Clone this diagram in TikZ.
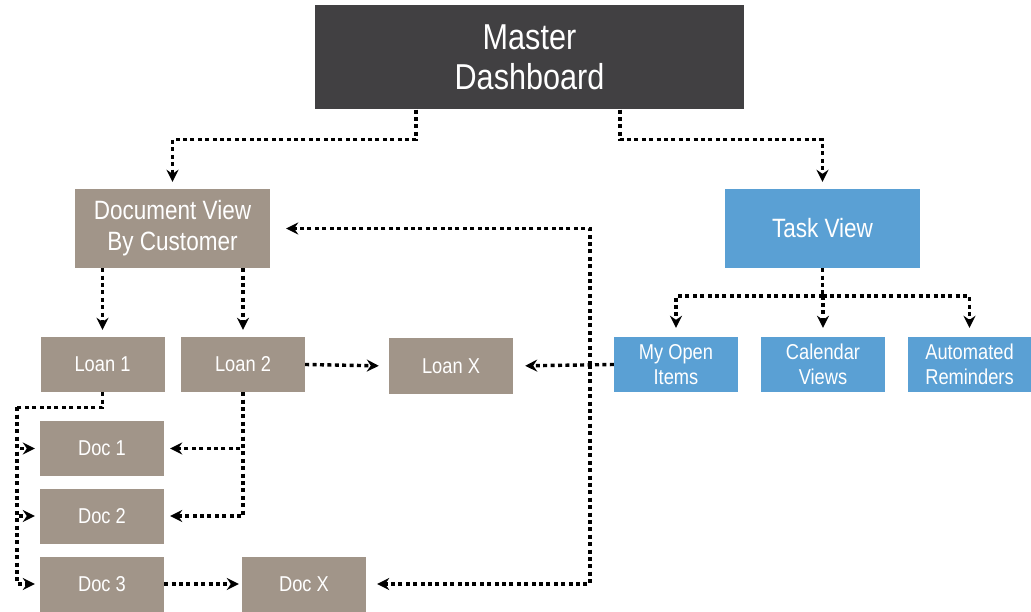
\documentclass[tikz,border=0pt]{standalone}
\usepackage{fontspec}
\setmainfont{Liberation Sans}[FakeStretch=0.85]
\usepackage{tikz}
\usetikzlibrary{arrows.meta}
\definecolor{boxdark}{HTML}{414042}
\definecolor{boxtaupe}{HTML}{A19589}
\definecolor{boxblue}{HTML}{5AA0D4}

\tikzset{
	box/.style={rectangle, fill=boxtaupe, text=white, inner sep=0pt, minimum width=124pt, minimum height=55pt, align=center, font=\fontsize{21.5}{25}\selectfont},
	bigbox/.style={box, minimum width=195pt, minimum height=79pt, font=\fontsize{26.5}{31}\selectfont},
	dotline/.style={line width=3.4pt, dash pattern=on 4pt off 3.4pt},
	link/.style={dotline, -{Stealth[length=12pt,width=12pt,inset=4pt]}, shorten >=7pt}
}

\begin{document}
\begin{tikzpicture}[x=1pt,y=-1pt]
	\useasboundingbox (0,0) rectangle (1031,612);

%boxes
	\node[box, fill=boxdark, minimum width=429pt, minimum height=104pt, font=\fontsize{36}{40}\selectfont] (master) at (529.5,57.5) {Master\\Dashboard};
	\node[bigbox] (docview) at (172.5,228.5) {Document View\\By Customer};
	\node[bigbox, fill=boxblue] (task) at (822.5,228.5) {Task View};
	%loans
	\node[box] (loan1) at (102.5,364.5) {Loan 1};
	\node[box] (loan2) at (243,364.5) {Loan 2};
	\node[box] (loanx) at (451,366) {Loan X};
	%tasks
	\node[box, fill=boxblue] (open) at (676,364.5) {My Open\\Items};
	\node[box, fill=boxblue] (calendar) at (823,364.5) {Calendar\\Views};
	\node[box, fill=boxblue, minimum width=123pt] (remind) at (969.5,364.5) {Automated\\Reminders};
	%docs
	\node[box] (doc1) at (102,448.5) {Doc 1};
	\node[box] (doc2) at (102,516) {Doc 2};
	\node[box] (doc3) at (102,584) {Doc 3};
	\node[box] (docx) at (304,584) {Doc X};

%from the dashboard
	\draw[link] ([xshift=-113.5pt]master.south) -- ++(0,30) -| (docview.north);
	\draw[link] ([xshift=90.5pt]master.south) -- ++(0,30) -| (task.north);

%document view
	\draw[link] (docview.south -| loan1.north) -- (loan1.north);
	\draw[link] (docview.south -| loan2.north) -- (loan2.north);
	\draw[link, shorten >=10pt] (loan2.east) -- (loanx.west);

%task view
	\coordinate (tsplit) at ([yshift=-28pt]task.south);
	\draw[dotline] (task.south) -- (tsplit);
	\foreach \t in {open,calendar,remind}
	{\draw[link, shorten >=9pt] (tsplit) -| (\t.north);}

%back from my open items
	\coordinate (spine) at ([xshift=-24pt]open.west);
	\draw[link, shorten >=12pt] (open.west) -- (loanx.east);
	\draw[link, shorten >=16pt] (spine) |- (docview.east);
	\draw[link, shorten >=11pt] (spine) |- (docx.east);

%loan 1 to docs
	\coordinate (lturn) at ([xshift=-85.5pt,yshift=-15pt]loan1.south);
	\draw[dotline] (loan1.south) |- (lturn);
	\foreach \d in {doc1,doc2,doc3}
	{\draw[link, shorten >=5pt] (lturn) |- (\d.west);}

%loan 2 to docs
	\foreach \d in {doc1,doc2}
	{\draw[link, shorten >=6pt] (loan2.south) |- (\d.east);}
	\draw[link, shorten >=3pt] (doc3.east) -- (docx.west);
\end{tikzpicture}
\end{document}
